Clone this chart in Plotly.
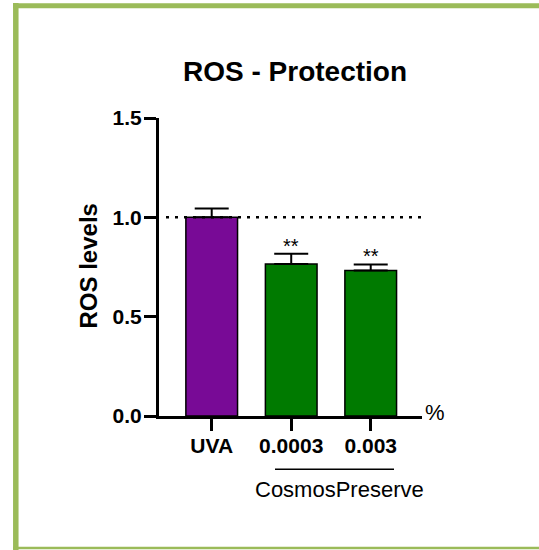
import plotly.graph_objects as go

# ---- data ----
categories = ["UVA", "0.0003", "0.003"]
ros_means = [1.0, 0.765, 0.732]
ros_sem = [0.045, 0.052, 0.031]
significance = ["", "**", "**"]
bar_colors = ["#780A96", "#007A00", "#007A00"]
y_ticks = [0.0, 0.5, 1.0, 1.5]
group_label = "CosmosPreserve"
unit_label = "%"
title_text = "ROS - Protection"
y_title = "ROS levels"
reference_level = 1.0

# ---- layout geometry (pixels) ----
W, H = 539, 550
ML, MR, MT, MB = 159, 117, 118, 134
PW = W - ML - MR
PH = H - MT - MB


def px(xp):
    return (xp - ML) / PW


def py(yp):
    return (H - MB - yp) / PH


FONT = "Liberation Sans, Arial, sans-serif"
GREEN_BORDER = "#9BBB59"

fig = go.Figure()
fig.add_trace(go.Bar(
    x=categories,
    y=ros_means,
    width=0.65,
    marker=dict(color=bar_colors, line=dict(color="black", width=1.5)),
    error_y=dict(type="data", array=ros_sem, arrayminus=[0] * len(ros_sem),
                 symmetric=False, color="black", thickness=2, width=17),
    showlegend=False,
    hoverinfo="skip",
))

annotations = []
for i, (m, s, sig) in enumerate(zip(ros_means, ros_sem, significance)):
    if sig:
        annotations.append(dict(x=i, y=m + s, xref="x", yref="y", text=sig,
                                showarrow=False, yanchor="bottom", yshift=-5,
                                font=dict(family=FONT, size=20, color="black")))

annotations += [
    dict(x=px(295), y=py(72), xref="paper", yref="paper", text=title_text,
         showarrow=False, xanchor="center", yanchor="middle",
         font=dict(family=FONT, size=28, color="black", weight="bold")),
    dict(x=px(88), y=py(266.5), xref="paper", yref="paper", text=y_title,
         showarrow=False, textangle=-90, xanchor="center", yanchor="middle",
         font=dict(family=FONT, size=24, color="black", weight="bold")),
    dict(x=px(339), y=py(489), xref="paper", yref="paper", text=group_label,
         showarrow=False, xanchor="center", yanchor="middle",
         font=dict(family=FONT, size=22, color="black")),
    dict(x=px(435), y=py(412), xref="paper", yref="paper", text=unit_label,
         showarrow=False, xanchor="center", yanchor="middle",
         font=dict(family=FONT, size=22, color="black")),
]

shapes = [
    # reference dotted line
    dict(type="line", xref="paper", yref="y", x0=px(166), x1=1.0,
         y0=reference_level, y1=reference_level, layer="above",
         line=dict(color="black", width=2.5, dash="3px,6px")),
    # group bracket
    dict(type="line", xref="paper", yref="paper", x0=px(275), x1=px(394),
         y0=py(469.3), y1=py(469.3), line=dict(color="black", width=1.5)),
    # green frame
    dict(type="line", xref="paper", yref="paper", x0=px(15.8), x1=px(15.8),
         y0=py(3), y1=py(552), line=dict(color=GREEN_BORDER, width=5.5)),
    dict(type="line", xref="paper", yref="paper", x0=px(13), x1=px(545),
         y0=py(5.8), y1=py(5.8), line=dict(color=GREEN_BORDER, width=5)),
    dict(type="line", xref="paper", yref="paper", x0=px(13), x1=px(545),
         y0=py(548), y1=py(548), line=dict(color=GREEN_BORDER, width=2.5)),
]

fig.update_layout(
    width=W, height=H,
    margin=dict(l=ML, r=MR, t=MT, b=MB, pad=0),
    paper_bgcolor="white", plot_bgcolor="white",
    annotations=annotations, shapes=shapes,
)
fig.update_xaxes(
    type="category", range=[-0.663, 2.645], showgrid=False, zeroline=False,
    showline=True, linecolor="black", linewidth=3,
    ticks="outside", ticklen=12, tickwidth=3, tickcolor="black",
    ticklabelstandoff=-3,
    tickfont=dict(family=FONT, size=21, color="black", weight="bold"),
)
fig.update_yaxes(
    range=[0, 1.5], tickvals=y_ticks, tickformat=".1f", showgrid=False, zeroline=False,
    showline=True, linecolor="black", linewidth=3,
    ticks="outside", ticklen=12, tickwidth=3, tickcolor="black",
    ticklabelstandoff=-2,
    tickfont=dict(family=FONT, size=21, color="black", weight="bold"),
)

fig.write_html("out.html", config={"displayModeBar": False},
               post_script="document.body.style.margin='0';document.body.style.overflow='hidden';")
